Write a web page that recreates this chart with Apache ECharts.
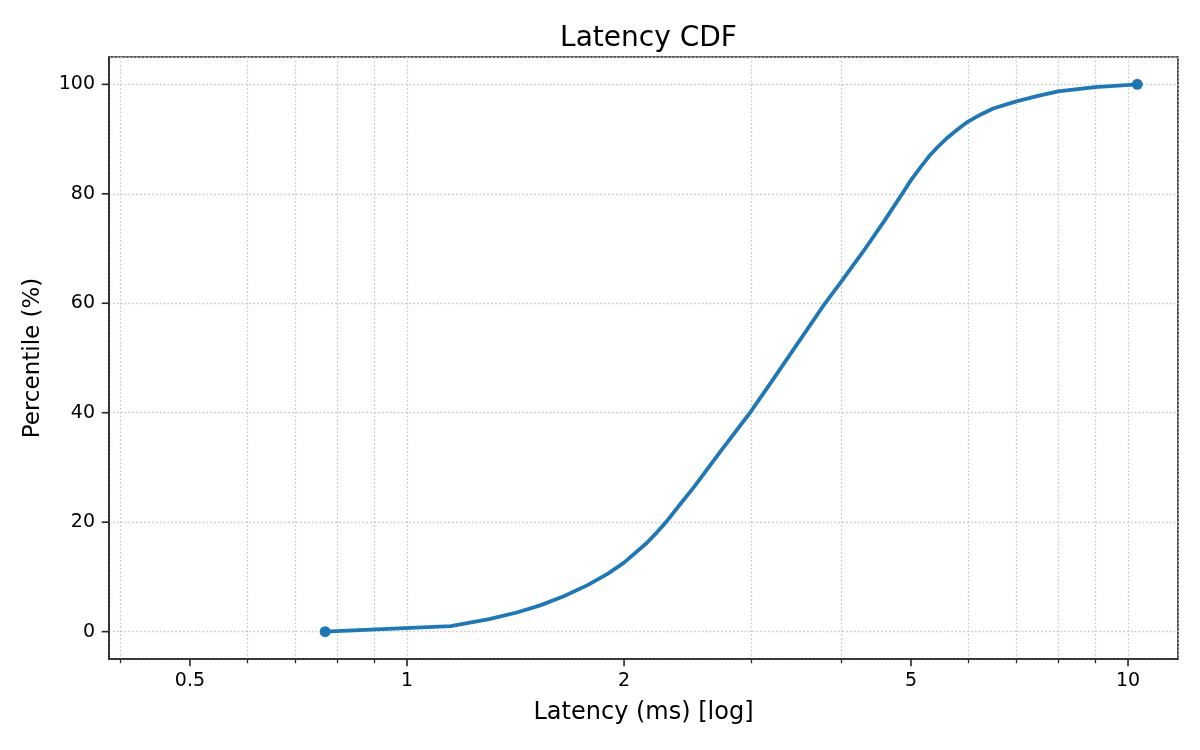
<!DOCTYPE html>
<html>
<head>
<meta charset="utf-8">
<title>Latency CDF</title>
<script src="https://cdn.jsdelivr.net/npm/echarts@6/dist/echarts.min.js"></script>
<style>
html, body { margin: 0; padding: 0; background: #fff; }
#chart { width: 1200px; height: 750px; }
</style>
</head>
<body>
<div id="chart"></div>
<script>
// latency (ms) at each percentile
var latency = [0.77, 1.15, 1.3, 1.42, 1.53, 1.65, 1.78, 1.9, 2.0, 2.15, 2.22, 2.29, 2.4, 2.5, 2.72, 2.99, 3.2, 3.45, 3.8, 4.0, 4.3, 4.6, 4.85, 5.0, 5.15, 5.3, 5.45, 5.6, 5.8, 6.0, 6.25, 6.5, 7.0, 7.5, 8.0, 9.0, 10.3];
var percentile = [0, 1, 2.3, 3.5, 4.8, 6.45, 8.5, 10.6, 12.6, 16.2, 18.1, 20.1, 23.5, 26.4, 32.9, 40, 45.6, 51.9, 60, 63.9, 69.6, 75.2, 79.8, 82.5, 84.8, 86.9, 88.6, 90.1, 91.75, 93.2, 94.5, 95.6, 96.9, 97.9, 98.7, 99.5, 100];

var xMajorTicks = [0.5, 1, 2, 5, 10];
var xMinorTicks = [0.4, 0.6, 0.7, 0.8, 0.9, 3, 4, 6, 7, 8, 9];
var yTicks = [0, 20, 40, 60, 80, 100];

var FONT = 'DejaVu Sans';
var INK = '#262626';
var X_MIN = 0.3861, X_MAX = 11.73;
var Y_MIN = -5, Y_MAX = 105;

var gridLine = { show: true, lineStyle: { color: '#c8c8c8', width: 1.3, type: [1.7, 2.2] } };

// only first and last point get a marker
var points = latency.map(function(x, i) {
    var item = { value: [x, percentile[i]] };
    if (i === 0 || i === latency.length - 1) {
        item.symbol = 'circle';
    }
    return item;
});

// outward tick marks, placed through the axes' own scales
function tickSeries(values, isX, len, width) {
    return {
        type: 'custom',
        xAxisIndex: 0,
        yAxisIndex: 0,
        clip: false,
        silent: true,
        z: 10,
        data: values.map(function(v) { return isX ? [v, Y_MIN] : [X_MIN, v]; }),
        renderItem: function(params, api) {
            var p = api.coord([api.value(0), api.value(1)]);
            var shape = isX
                ? { x1: p[0], y1: p[1], x2: p[0], y2: p[1] + len }
                : { x1: p[0] - len, y1: p[1], x2: p[0], y2: p[1] };
            return { type: 'line', shape: shape, style: { stroke: INK, lineWidth: width } };
        }
    };
}

var myChart = echarts.init(document.getElementById('chart'), null, { renderer: 'canvas' });

var option = {
    animation: false,
    backgroundColor: '#ffffff',
    title: {
        text: 'Latency CDF',
        left: 643.5,
        textAlign: 'center',
        top: 20,
        textStyle: { fontFamily: FONT, fontSize: 28, fontWeight: 'normal', color: '#000' }
    },
    grid: {
        left: 109,
        right: 22,
        top: 57,
        bottom: 91,
        show: true,
        borderColor: INK,
        borderWidth: 1.6,
        backgroundColor: 'transparent'
    },
    xAxis: [{
        type: 'log',
        logBase: 10,
        min: X_MIN,
        max: X_MAX,
        position: 'bottom',
        name: 'Latency (ms) [log]',
        nameLocation: 'middle',
        nameGap: 42,
        nameTextStyle: { fontFamily: FONT, fontSize: 24, color: '#000' },
        axisLine: { show: true, onZero: false, lineStyle: { color: INK, width: 1.6 } },
        axisTick: { show: false },
        axisLabel: {
            customValues: xMajorTicks,
            margin: 13,
            color: '#000',
            fontFamily: FONT,
            fontSize: 19,
            formatter: function(v) { return String(+Number(v).toPrecision(3)); }
        },
        splitLine: gridLine
    }, {
        // minor decade ticks and their grid lines
        type: 'log',
        logBase: 10,
        min: X_MIN,
        max: X_MAX,
        position: 'bottom',
        axisLine: { show: false, onZero: false },
        axisTick: { show: true, customValues: xMinorTicks, length: 4.2, lineStyle: { color: INK, width: 1.25 } },
        axisLabel: { show: false },
        splitLine: gridLine
    }],
    yAxis: {
        type: 'value',
        min: Y_MIN,
        max: Y_MAX,
        name: 'Percentile (%)',
        nameLocation: 'middle',
        nameGap: 64,
        nameRotate: 90,
        nameTextStyle: { fontFamily: FONT, fontSize: 23, color: '#000' },
        axisLine: { show: true, onZero: false, lineStyle: { color: INK, width: 1.6 } },
        axisTick: { show: false },
        axisLabel: { customValues: yTicks, margin: 14, color: '#000', fontFamily: FONT, fontSize: 19 },
        splitLine: { show: true, lineStyle: gridLine.lineStyle }
    },
    series: [{
        name: 'CDF',
        type: 'line',
        xAxisIndex: 0,
        yAxisIndex: 0,
        data: points,
        symbol: 'none',
        showSymbol: true,
        symbolSize: 11,
        itemStyle: { color: '#1f77b4' },
        lineStyle: { color: '#1f77b4', width: 3.8 },
        z: 5
    },
    tickSeries(xMajorTicks, true, 7.3, 1.6),
    tickSeries(yTicks, false, 7.3, 1.6)
    ]
};

myChart.setOption(option);
</script>
</body>
</html>
